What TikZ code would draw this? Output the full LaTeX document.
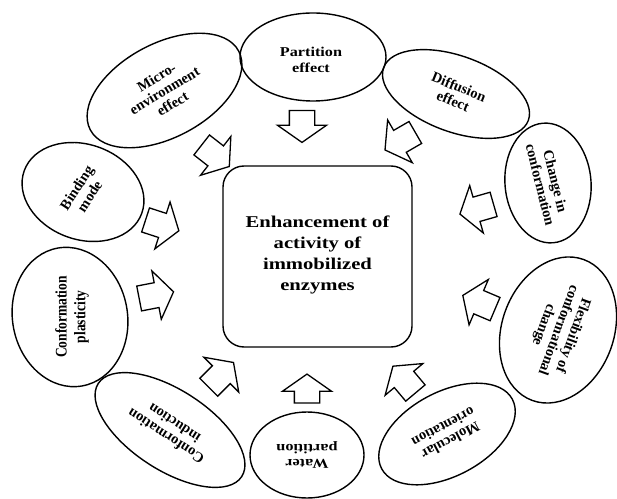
\documentclass[tikz,border=0pt]{standalone}
\usepackage{fontspec}
\setmainfont{Liberation Serif}
\usetikzlibrary{shapes.geometric,shapes.arrows}
\begin{document}
\begin{tikzpicture}[x=1pt,y=1pt,
 ell/.style={ellipse,draw,line width=1.4pt,inner sep=0pt},
 lbl/.style={align=center,font=\fontsize{13.5}{15.5}\selectfont\bfseries,inner sep=0pt,xscale=1.2},
 tilt/.style={align=center,font=\fontsize{14.5}{15.5}\selectfont\bfseries,inner sep=0pt},
 blk/.style={single arrow,draw,line width=1.3pt,minimum height=35pt,inner xsep=0pt,inner ysep=12pt,single arrow head extend=12pt,single arrow tip angle=110},
 hub/.style={rectangle,rounded corners=21pt,draw,line width=1.4pt,minimum width=189pt,minimum height=181pt},
 hubtxt/.style={align=center,font=\fontsize{16.5}{21}\selectfont\bfseries,inner sep=0pt,xscale=1.25}]
\useasboundingbox (0,0) rectangle (617,498);
% centre
\node[hub] (hub) at (317.5,241.5) {};
\node[hubtxt] (hubt) at (317.5,243) {Enhancement of\\activity of\\immobilized\\enzymes};
% ellipses
\node[ell,minimum width=146pt,minimum height=88pt] (e1) at (313,441) {};
\node[lbl] (t1) at (311,438) {Partition\\effect};
\node[ell,minimum width=168pt,minimum height=94pt,rotate=28] (e2) at (164.5,407.5) {};
\node[tilt,rotate=31] (t2) at (164.5,407.5) {Micro-\\environment\\effect};
\node[ell,minimum width=154pt,minimum height=76pt,rotate=-20] (e3) at (456,404) {};
\node[tilt,rotate=-22] (t3) at (456,404) {Diffusion\\effect};
\node[ell,minimum width=120pt,minimum height=86pt,rotate=-85] (e4) at (548,315) {};
\node[tilt,rotate=-76] (t4) at (548,315) {Change in\\conformation};
\node[ell,minimum width=125pt,minimum height=95pt,rotate=-20] (e5) at (83,306) {};
\node[tilt,rotate=57] (t5) at (83,306) {Binding\\mode};
\node[ell,minimum width=140pt,minimum height=115pt,rotate=100] (e6) at (70,181) {};
\node[lbl,rotate=90] (t6) at (72,181) {Conformation\\plasticity};
\node[ell,minimum width=150pt,minimum height=112pt,rotate=70] (e7) at (558,168) {};
\node[tilt,rotate=-110] (t7) at (558,168) {Flexibility of\\conformational\\change};
\node[ell,minimum width=148pt,minimum height=84pt,rotate=28] (e8) at (447,64) {};
\node[tilt,rotate=208] (t8) at (447,64) {Molecular\\orientation};
\node[ell,minimum width=114pt,minimum height=86pt] (e9) at (307,43) {};
\node[lbl,rotate=180] (t9) at (307,43) {Water\\partition};
\node[ell,minimum width=171pt,minimum height=80pt,rotate=-33] (e10) at (170,68) {};
\node[tilt,rotate=147] (t10) at (170,68) {Conformation\\induction};
% block arrows
\node[blk,minimum height=32pt,rotate=-90] (a1) at (302,376) {};
\node[blk,rotate=-38] (a2) at (212,345) {};
\node[blk,rotate=-150] (a3) at (404,359) {};
\node[blk,rotate=-164] (a4) at (481,290) {};
\node[blk,rotate=-18] (a5) at (158,274) {};
\node[blk,rotate=11] (a6) at (152,202) {};
\node[blk,rotate=157] (a7) at (483,194) {};
\node[blk,rotate=130] (a8) at (407,115) {};
\node[blk,minimum height=29pt,rotate=90] (a9) at (307,105) {};
\node[blk,rotate=45] (a10) at (218,120) {};
\end{tikzpicture}
\end{document}
